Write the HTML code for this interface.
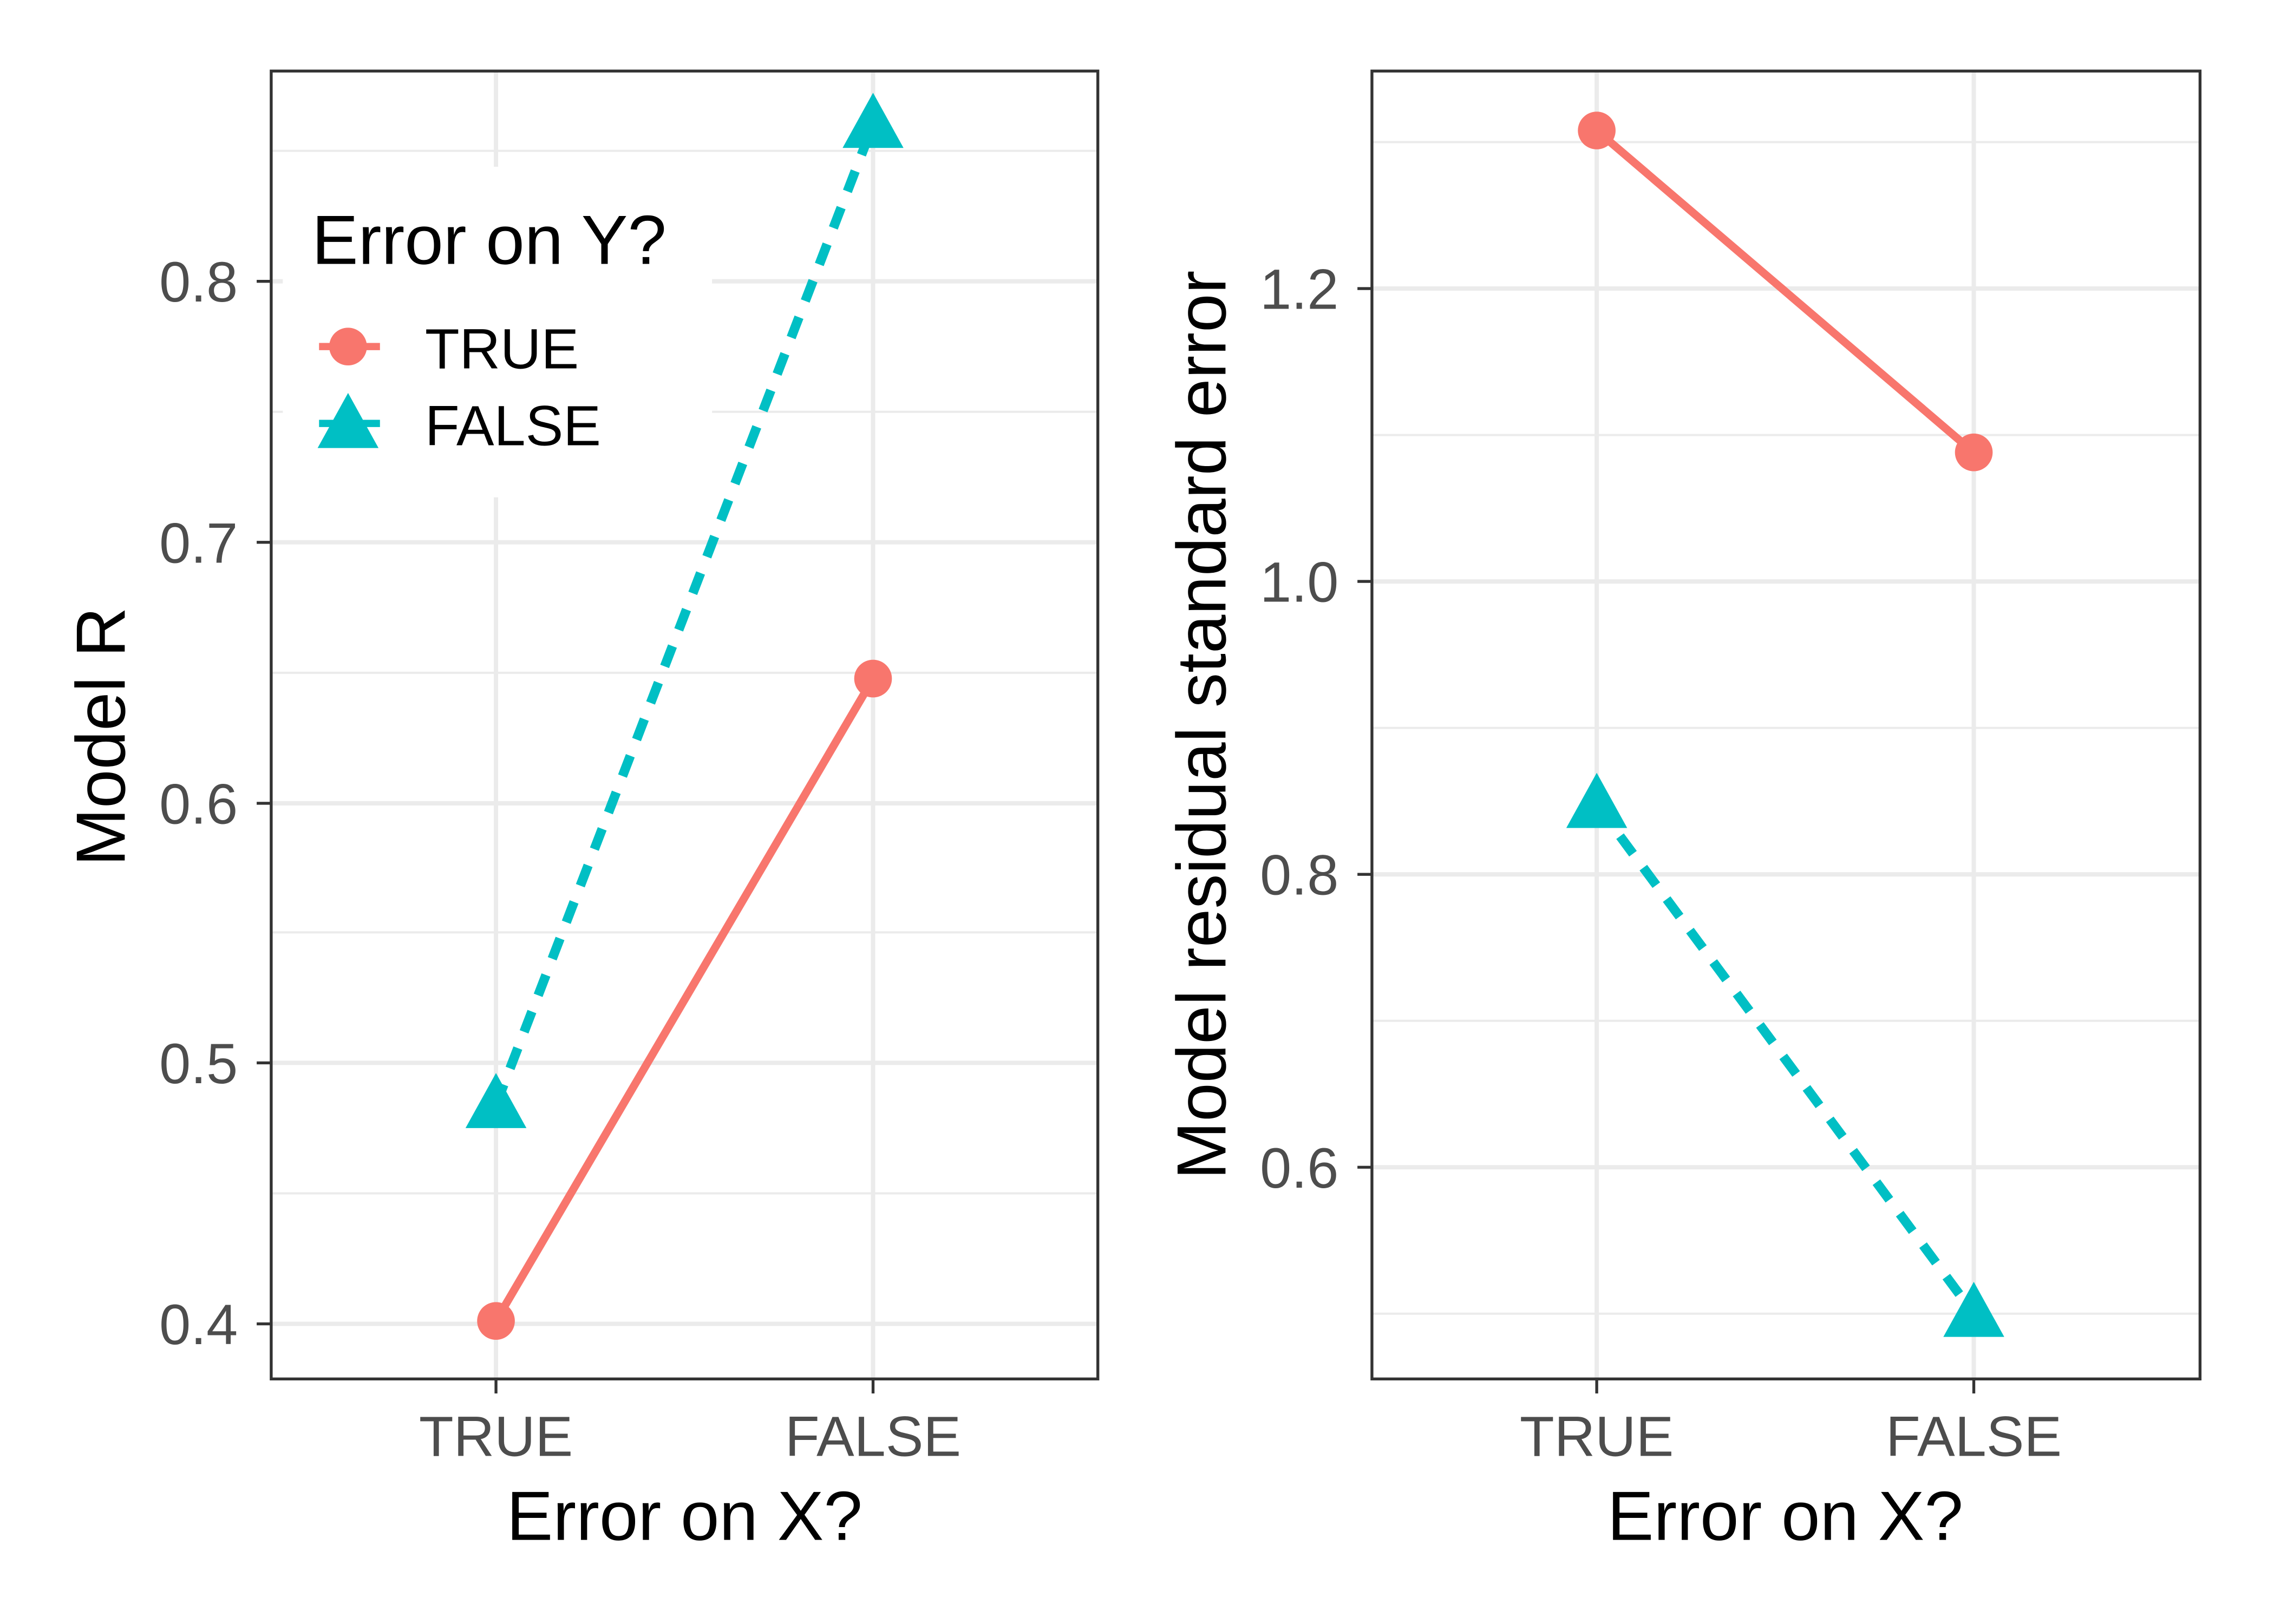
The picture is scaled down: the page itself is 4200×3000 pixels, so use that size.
<!DOCTYPE html>
<html><head><style>html,body{margin:0;padding:0;background:#fff}svg{display:block}</style></head>
<body>
<svg width="4200" height="3000" viewBox="0 0 1568 1120" preserveAspectRatio="none" xmlns="http://www.w3.org/2000/svg" font-family="Liberation Sans, sans-serif">
<rect width="1568" height="1120" fill="#fff"/>
<!-- Left panel -->
<g stroke="#ebebeb">
<g stroke-width="1.5">
<line x1="187" x2="757" y1="104" y2="104"/><line x1="187" x2="757" y1="284" y2="284"/><line x1="187" x2="757" y1="464" y2="464"/><line x1="187" x2="757" y1="643" y2="643"/><line x1="187" x2="757" y1="823" y2="823"/>
</g>
<g stroke-width="3">
<line x1="187" x2="757" y1="194" y2="194"/><line x1="187" x2="757" y1="374" y2="374"/><line x1="187" x2="757" y1="554" y2="554"/><line x1="187" x2="757" y1="733" y2="733"/><line x1="187" x2="757" y1="913" y2="913"/>
<line x1="342" x2="342" y1="49" y2="951"/><line x1="602" x2="602" y1="49" y2="951"/>
</g>
</g>
<rect x="195" y="115" width="296" height="228" fill="#fff"/>
<line x1="342" y1="762" x2="602" y2="86" stroke="#00BFC4" stroke-width="6.5" stroke-dasharray="15,12"/>
<line x1="342" y1="911" x2="602" y2="468" stroke="#F8766D" stroke-width="5.5"/>
<circle cx="342" cy="911" r="13" fill="#F8766D"/><circle cx="602" cy="468" r="13" fill="#F8766D"/>
<polygon points="342,740 363,778 321,778" fill="#00BFC4"/><polygon points="602,64 623,102 581,102" fill="#00BFC4"/>
<rect x="187" y="49" width="570" height="902" fill="none" stroke="#333" stroke-width="2"/>
<text x="215" y="182" font-size="48">Error on Y?</text>
<line x1="220" x2="262" y1="239" y2="239" stroke="#F8766D" stroke-width="5"/><circle cx="240" cy="239" r="13" fill="#F8766D"/>
<line x1="220" x2="262" y1="292" y2="292" stroke="#00BFC4" stroke-width="5"/><polygon points="240,271 261,309 219,309" fill="#00BFC4"/>
<text x="293" y="254" font-size="39">TRUE</text>
<text x="293" y="307" font-size="39">FALSE</text>
<g font-size="39" fill="#4d4d4d" text-anchor="end">
<text x="164" y="927">0.4</text><text x="164" y="747">0.5</text><text x="164" y="568">0.6</text><text x="164" y="388">0.7</text><text x="164" y="208">0.8</text>
</g>
<g stroke="#333" stroke-width="2"><line x1="177" x2="187" y1="913" y2="913"/><line x1="177" x2="187" y1="733" y2="733"/><line x1="177" x2="187" y1="554" y2="554"/><line x1="177" x2="187" y1="374" y2="374"/><line x1="177" x2="187" y1="194" y2="194"/>
<line x1="342" x2="342" y1="951" y2="961"/><line x1="602" x2="602" y1="951" y2="961"/></g>
<g font-size="39" fill="#4d4d4d" text-anchor="middle"><text x="342" y="1004">TRUE</text><text x="602" y="1004">FALSE</text></g>
<text x="472" y="1062" font-size="48" text-anchor="middle">Error on X?</text>
<text transform="translate(86,508) rotate(-90)" font-size="48" text-anchor="middle">Model R</text>
<!-- Right panel -->
<g stroke="#ebebeb">
<g stroke-width="1.5">
<line x1="946" x2="1517" y1="98" y2="98"/><line x1="946" x2="1517" y1="300" y2="300"/><line x1="946" x2="1517" y1="502" y2="502"/><line x1="946" x2="1517" y1="704" y2="704"/><line x1="946" x2="1517" y1="906" y2="906"/>
</g>
<g stroke-width="3">
<line x1="946" x2="1517" y1="199" y2="199"/><line x1="946" x2="1517" y1="401" y2="401"/><line x1="946" x2="1517" y1="603" y2="603"/><line x1="946" x2="1517" y1="805" y2="805"/>
<line x1="1101" x2="1101" y1="49" y2="951"/><line x1="1361" x2="1361" y1="49" y2="951"/>
</g>
</g>
<line x1="1101" y1="555" x2="1361" y2="906" stroke="#00BFC4" stroke-width="6.5" stroke-dasharray="15,12"/>
<line x1="1101" y1="90" x2="1361" y2="312" stroke="#F8766D" stroke-width="5.5"/>
<circle cx="1101" cy="90" r="13" fill="#F8766D"/><circle cx="1361" cy="312" r="13" fill="#F8766D"/>
<polygon points="1101,533 1122,571 1080,571" fill="#00BFC4"/><polygon points="1361,884 1382,922 1340,922" fill="#00BFC4"/>
<rect x="946" y="49" width="571" height="902" fill="none" stroke="#333" stroke-width="2"/>
<g font-size="39" fill="#4d4d4d" text-anchor="end">
<text x="923" y="213">1.2</text><text x="923" y="415">1.0</text><text x="923" y="617">0.8</text><text x="923" y="819">0.6</text>
</g>
<g stroke="#333" stroke-width="2"><line x1="936" x2="946" y1="199" y2="199"/><line x1="936" x2="946" y1="401" y2="401"/><line x1="936" x2="946" y1="603" y2="603"/><line x1="936" x2="946" y1="805" y2="805"/>
<line x1="1101" x2="1101" y1="951" y2="961"/><line x1="1361" x2="1361" y1="951" y2="961"/></g>
<g font-size="39" fill="#4d4d4d" text-anchor="middle"><text x="1101" y="1004">TRUE</text><text x="1361" y="1004">FALSE</text></g>
<text x="1231" y="1062" font-size="48" text-anchor="middle">Error on X?</text>
<text transform="translate(845,500) rotate(-90)" font-size="48" text-anchor="middle">Model residual standard error</text>
</svg>
</body></html>
